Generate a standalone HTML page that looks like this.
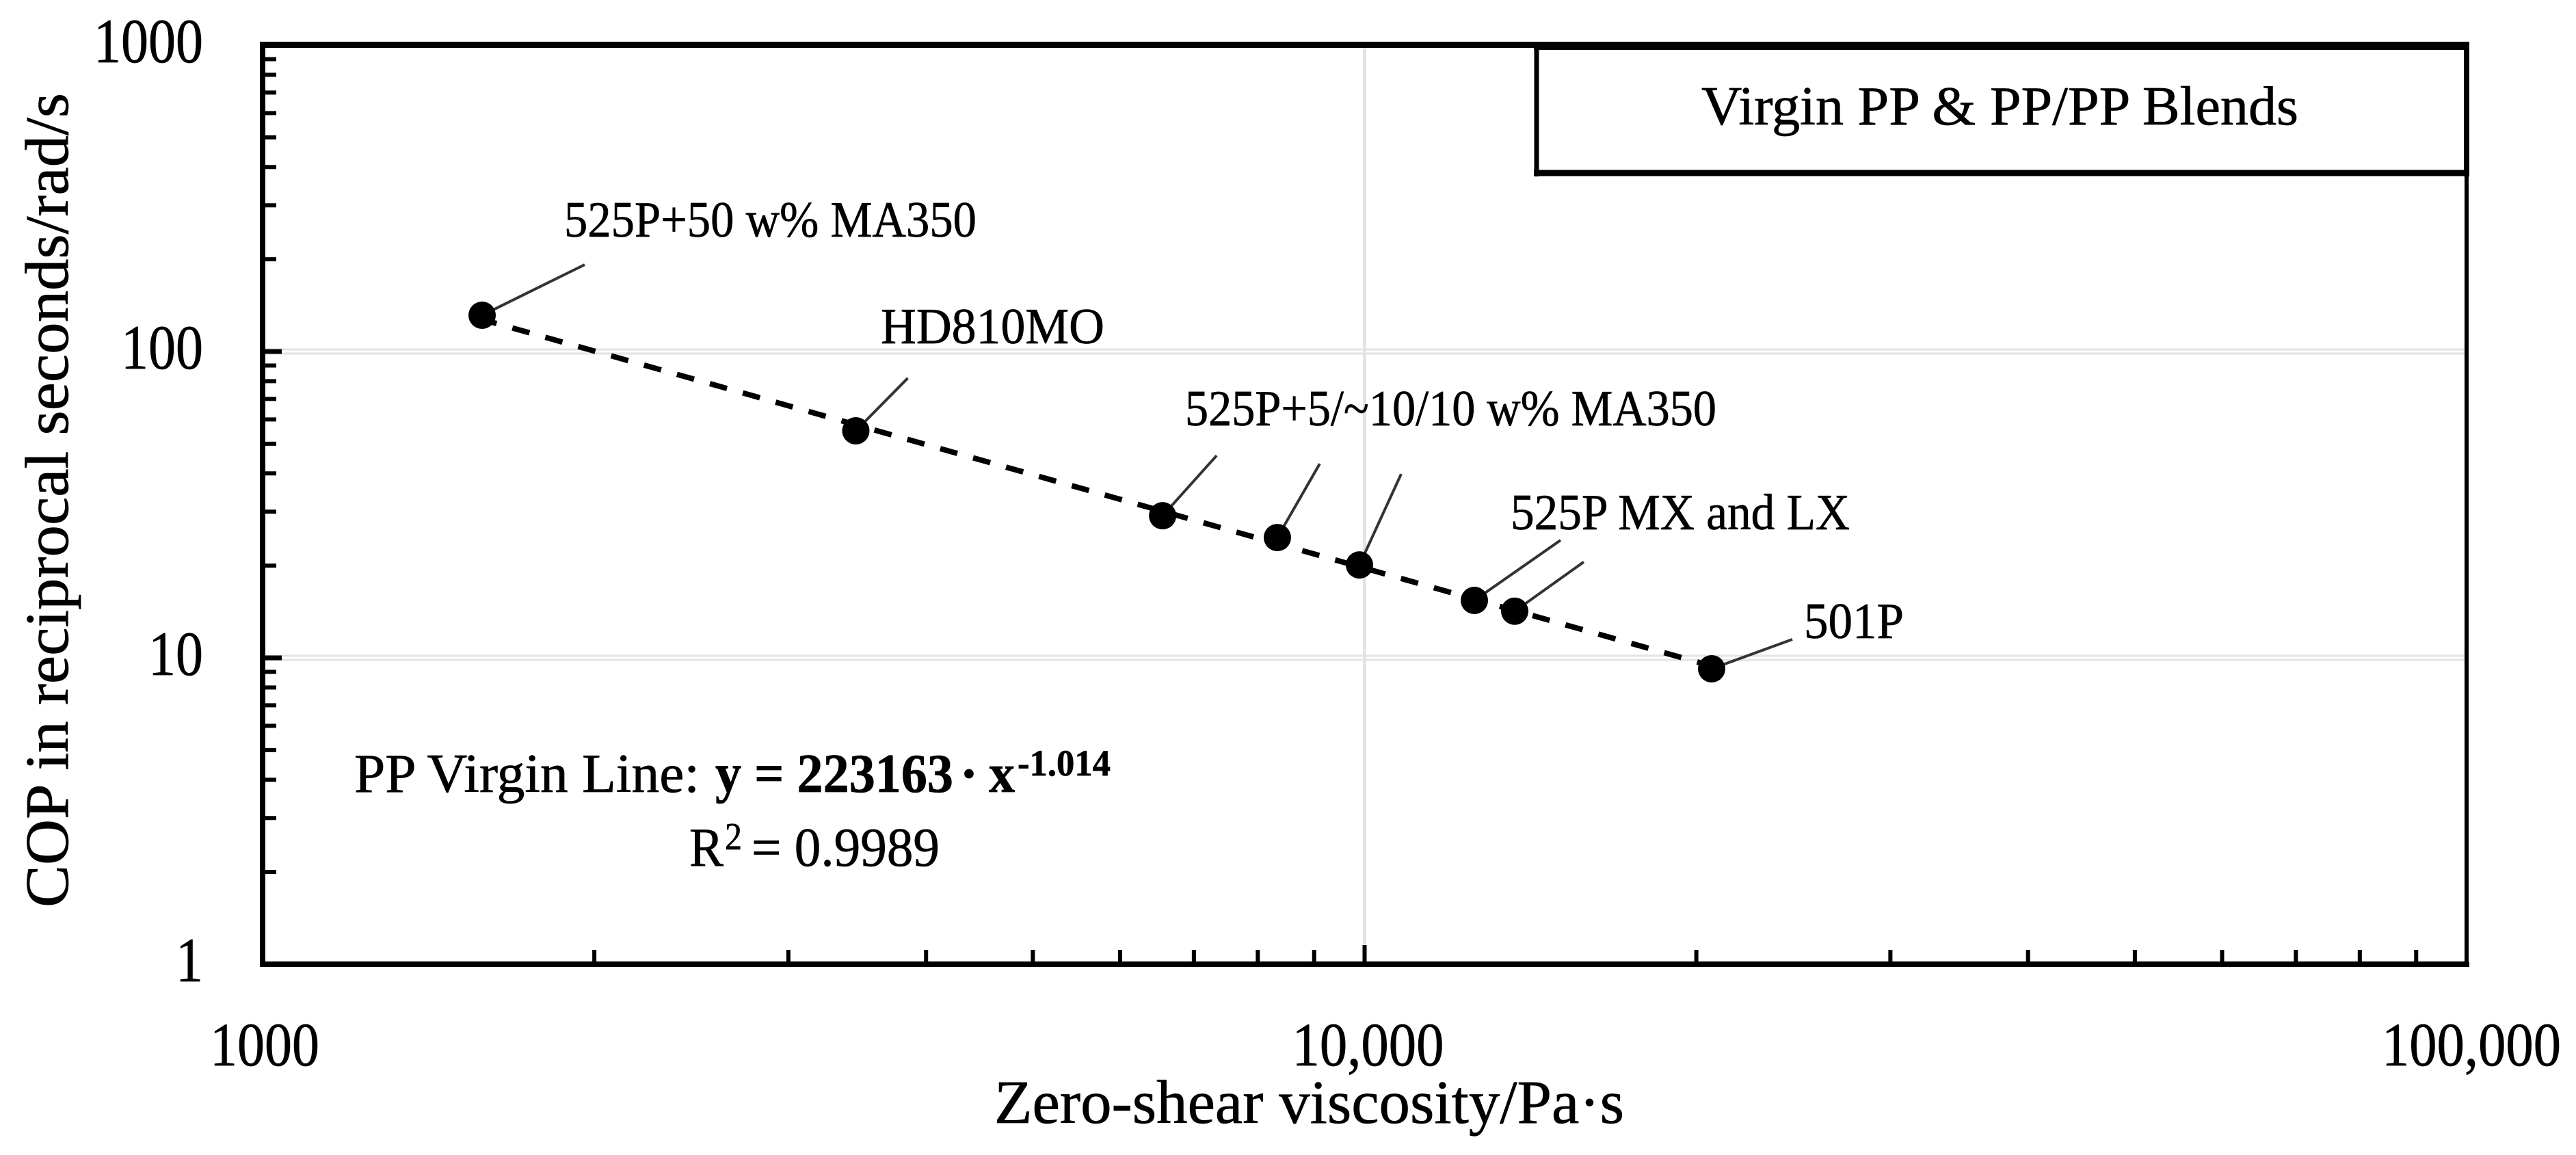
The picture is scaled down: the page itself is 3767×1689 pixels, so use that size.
<!DOCTYPE html>
<html lang="en">
<head>
<meta charset="utf-8">
<title>COP vs zero-shear viscosity</title>
<style>
  html, body { margin: 0; padding: 0; background: #fff; }
  svg { display: block; }
  text { font-family: "Liberation Serif", "DejaVu Serif", serif; fill: #000; stroke: #000; stroke-width: 0.7px; }
</style>
</head>
<body>
<svg id="chart" xmlns="http://www.w3.org/2000/svg" width="3767" height="1689" viewBox="0 0 3767 1689">
  <rect x="0" y="0" width="3767" height="1689" fill="#fff"/>
  <g id="grid"></g>
  <g id="axes"></g>
  <g id="series"></g>

  <g>
    <rect x="2247" y="66" width="1360" height="187" fill="#fff"/>
    <line x1="2247" y1="61" x2="2247" y2="258" stroke="#000" stroke-width="7"/>
    <line x1="2243" y1="67" x2="3611" y2="67" stroke="#000" stroke-width="12"/>
    <line x1="3607" y1="61" x2="3607" y2="258" stroke="#000" stroke-width="8"/>
    <line x1="2243" y1="253" x2="3611" y2="253" stroke="#000" stroke-width="9"/>
    <text x="2488" y="182" font-size="80" textLength="873" lengthAdjust="spacingAndGlyphs">Virgin PP &amp; PP/PP Blends</text>
  </g>

  <g>
    <text x="825" y="346" font-size="74" textLength="603" lengthAdjust="spacingAndGlyphs">525P+50 w% MA350</text>
    <text x="1288" y="502" font-size="74" textLength="327" lengthAdjust="spacingAndGlyphs">HD810MO</text>
    <text x="1733" y="622" font-size="74" textLength="777" lengthAdjust="spacingAndGlyphs">525P+5/~10/10 w% MA350</text>
    <text x="2209" y="774" font-size="74" textLength="496" lengthAdjust="spacingAndGlyphs">525P MX and LX</text>
    <text x="2638" y="933" font-size="74" textLength="146" lengthAdjust="spacingAndGlyphs">501P</text>
  </g>

  <g>
    <text x="518" y="1158" font-size="80" textLength="505" lengthAdjust="spacingAndGlyphs">PP Virgin Line:</text>
    <text x="1046" y="1158" font-size="80" font-weight="bold" textLength="348" lengthAdjust="spacingAndGlyphs">y = 223163</text>
    <text x="1417" y="1158" font-size="80" font-weight="bold" text-anchor="middle">·</text>
    <text x="1446" y="1158" font-size="80" font-weight="bold" textLength="38" lengthAdjust="spacingAndGlyphs">x</text>
    <text x="1488" y="1134" font-size="54" font-weight="bold" textLength="136" lengthAdjust="spacingAndGlyphs">-1.014</text>
    <text x="1008" y="1266" font-size="80" textLength="50" lengthAdjust="spacingAndGlyphs">R</text>
    <text x="1060" y="1242" font-size="56" textLength="25" lengthAdjust="spacingAndGlyphs">2</text>
    <text x="1099" y="1266" font-size="80" textLength="275" lengthAdjust="spacingAndGlyphs">= 0.9989</text>
  </g>

  <text x="1454" y="1642" font-size="90" textLength="921" lengthAdjust="spacingAndGlyphs">Zero-shear viscosity/Pa·s</text>
  <text transform="translate(99,1327) rotate(-90)" x="0" y="0" font-size="90" textLength="1191" lengthAdjust="spacingAndGlyphs">COP in reciprocal seconds/rad/s</text>
</svg>

<script>
// ---- chart data ----
const sampleNames = ["525P+50 w% MA350", "HD810MO", "525P+5 w% MA350", "525P+10 w% MA350", "525P+10 w% MA350 (b)", "525P MX", "525P LX", "501P"];
const viscosityValues = [1582, 3454, 6557, 8334, 9893, 12578, 13684, 20650];
const copValues = [131.3, 55.1, 29.1, 24.7, 20.1, 15.4, 14.2, 9.21];
const fitCoefficient = 223163;
const fitExponent = -1.014;
const xTickValues = [1000, 10000, 100000];
const xTickLabels = ["1000", "10,000", "100,000"];
const yTickValues = [1, 10, 100, 1000];
const yTickLabels = ["1", "10", "100", "1000"];
const minorMultipliers = [2, 3, 4, 5, 6, 7, 8, 9];

// ---- layout (pixels, not data) ----
const plot = { left: 384, right: 3607, top: 66, bottom: 1410 };
const xDomain = [1000, 100000];
const yDomain = [1, 1000];
const leaderOffsets = [[150, -74], [76, -77], [79, -88], [62, -108], [61, -133], [126, -88], [101, -72], [118, -43]];

function xScale(v) {
  return plot.left + (Math.log10(v) - Math.log10(xDomain[0])) /
    (Math.log10(xDomain[1]) - Math.log10(xDomain[0])) * (plot.right - plot.left);
}
function yScale(v) {
  return plot.bottom - (Math.log10(v) - Math.log10(yDomain[0])) /
    (Math.log10(yDomain[1]) - Math.log10(yDomain[0])) * (plot.bottom - plot.top);
}
function fitValue(x) {
  return fitCoefficient * Math.pow(x, fitExponent);
}

const NS = "http://www.w3.org/2000/svg";
function make(parent, tag, props) {
  const node = document.createElementNS(NS, tag);
  for (const k in props) node.setAttribute(k, props[k]);
  parent.appendChild(node);
  return node;
}
function labelWidth(label) {
  let w = 0;
  for (const c of label) w += (c === "," ? 22 : 40);
  return w;
}

const gridG = document.getElementById("grid");
const axesG = document.getElementById("axes");
const seriesG = document.getElementById("series");

// gridlines: decade lines between the axis limits
yTickValues.slice(1, -1).forEach(function (v) {
  [-3, 3].forEach(function (off) {
    const el = make(gridG, "line", { x1: plot.left, x2: plot.right, y1: yScale(v) + off, y2: yScale(v) + off, stroke: "#e3e3e3", "stroke-width": 3 });
    
    
  });
});
xTickValues.slice(1, -1).forEach(function (v) {
  const el = make(gridG, "line", { x1: xScale(v), x2: xScale(v), y1: plot.top, y2: plot.bottom, stroke: "#e3e3e3", "stroke-width": 5 });
  
  
});

// plot frame
const frameLeft = make(axesG, "line", { x1: plot.left, x2: plot.left, y1: 61, y2: 1414, stroke: "#000", "stroke-width": 8 });


const frameBottom = make(axesG, "line", { x1: 380, x2: 3611, y1: plot.bottom, y2: plot.bottom, stroke: "#000", "stroke-width": 8 });


const frameTop = make(axesG, "line", { x1: 380, x2: 3611, y1: 65.5, y2: 65.5, stroke: "#000", "stroke-width": 9 });


const frameRight = make(axesG, "line", { x1: plot.right, x2: plot.right, y1: 61, y2: 1414, stroke: "#000", "stroke-width": 6 });



// y ticks
yTickValues.forEach(function (v, i) {
  if (i > 0 && i < yTickValues.length - 1) {
    const major = make(axesG, "line", { x1: plot.left, x2: plot.left + 28, y1: yScale(v), y2: yScale(v), stroke: "#000", "stroke-width": 7 });
    
    
  }
  if (i < yTickValues.length - 1) {
    minorMultipliers.forEach(function (m) {
      const minor = make(axesG, "line", { x1: plot.left, x2: plot.left + 20, y1: yScale(v * m), y2: yScale(v * m), stroke: "#000", "stroke-width": 6 });
      
      
    });
  }
  const label = make(axesG, "text", { x: 297, y: yScale(v) + 25, "font-size": 92, "text-anchor": "end", textLength: labelWidth(yTickLabels[i]), lengthAdjust: "spacingAndGlyphs" });
  label.textContent = yTickLabels[i];
  
  
});

// x ticks
xTickValues.forEach(function (v, i) {
  if (i > 0 && i < xTickValues.length - 1) {
    const major = make(axesG, "line", { x1: xScale(v), x2: xScale(v), y1: plot.bottom, y2: plot.bottom - 28, stroke: "#000", "stroke-width": 6 });
    
    
  }
  if (i < xTickValues.length - 1) {
    minorMultipliers.forEach(function (m) {
      const minor = make(axesG, "line", { x1: xScale(v * m), x2: xScale(v * m), y1: plot.bottom, y2: plot.bottom - 21, stroke: "#000", "stroke-width": 6 });
      
      
    });
  }
  const label = make(axesG, "text", { x: xScale(v) + 3 + i * 2, y: 1558, "font-size": 90, "text-anchor": "middle", textLength: labelWidth(xTickLabels[i]), lengthAdjust: "spacingAndGlyphs" });
  label.textContent = xTickLabels[i];
  
  
});

// power-law fit line across the data range
const xMin = Math.min.apply(null, viscosityValues);
const xMax = Math.max.apply(null, viscosityValues);
const fitLine = make(seriesG, "line", {
  x1: xScale(xMin), y1: yScale(fitValue(xMin)),
  x2: xScale(xMax), y2: yScale(fitValue(xMax)),
  stroke: "#000", "stroke-width": 8, "stroke-dasharray": "26 24", "stroke-dashoffset": 4
});



// leaders and points
viscosityValues.forEach(function (xv, i) {
  const cx = xScale(xv);
  const cy = yScale(copValues[i]);
  const off = leaderOffsets[i];
  const len = Math.hypot(off[0], off[1]);
  const leader = make(seriesG, "line", {
    x1: cx + off[0] / len * 18, y1: cy + off[1] / len * 18,
    x2: cx + off[0], y2: cy + off[1],
    stroke: "#333", "stroke-width": 4
  });
  
  
  const point = make(seriesG, "circle", { cx: cx, cy: cy, r: 20, fill: "#000" });
  
  
  const tip = make(point, "title", {});
  tip.textContent = sampleNames[i];
});
</script>
</body>
</html>
